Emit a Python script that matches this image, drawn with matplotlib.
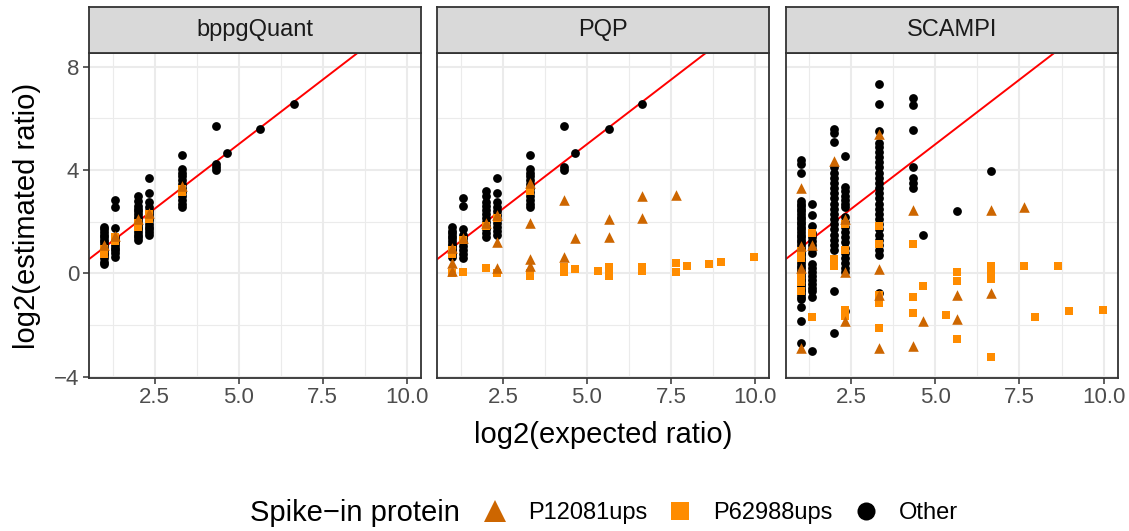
import matplotlib
matplotlib.use("Agg")
import matplotlib.pyplot as plt
from matplotlib.lines import Line2D
import numpy as np

plt.rcParams['font.family'] = ['Liberation Sans', 'DejaVu Sans']

# ---- data: log2(expected ratio) -> log2(estimated ratio) ----
methods = ["bppgQuant", "PQP", "SCAMPI"]

# bppgQuant
bppg_other_x = [1.0]*15 + [1.32]*11 + [2.0]*16 + [2.32]*13 + [3.32]*12 + [4.32]*4 + [4.64, 5.64, 6.64]
bppg_other_y = [0.35, 0.45, 0.6, 0.7, 0.8, 0.9, 1.0, 1.1, 1.2, 1.3, 1.4, 1.5, 1.6, 1.7, 1.8,
                2.85, 2.55, 1.75, 1.4, 1.3, 1.2, 1.1, 1.0, 0.9, 0.8, 0.65,
                3.0, 2.8, 2.6, 2.5, 2.4, 2.3, 2.2, 2.1, 2.0, 1.9, 1.8, 1.7, 1.6, 1.5, 1.4, 1.3,
                3.7, 3.1, 2.75, 2.55, 2.4, 2.3, 2.2, 2.05, 1.9, 1.8, 1.7, 1.6, 1.5,
                4.6, 4.05, 3.9, 3.75, 3.6, 3.45, 3.3, 3.15, 3.0, 2.85, 2.7, 2.55,
                5.7, 4.25, 4.1, 4.0,
                4.65, 5.6, 6.55]
bppg_p12_x = [1.0, 1.32, 2.0, 2.32, 3.32]
bppg_p12_y = [1.1, 1.45, 2.1, 2.35, 3.4]
bppg_p62_x = [1.0, 1.0, 1.32, 1.32, 2.0, 2.0, 2.32, 2.32, 3.32, 3.32]
bppg_p62_y = [0.95, 0.75, 1.4, 1.25, 1.95, 1.8, 2.3, 2.1, 3.25, 3.15]

# PQP
pqp_other_x = [1.0]*12 + [1.32]*10 + [2.0]*12 + [2.32]*11 + [3.32]*12 + [4.32]*3 + [4.64, 5.64, 6.64]
pqp_other_y = [0.65, 0.75, 0.85, 0.95, 1.05, 1.15, 1.25, 1.35, 1.45, 1.55, 1.65, 1.8,
               2.9, 2.6, 1.7, 1.5, 1.35, 1.2, 1.05, 0.9, 0.75, 0.6,
               3.2, 3.0, 2.75, 2.6, 2.45, 2.3, 2.15, 2.0, 1.85, 1.7, 1.55, 1.4,
               3.7, 3.1, 2.75, 2.55, 2.4, 2.25, 2.1, 1.95, 1.8, 1.65, 1.5,
               4.6, 4.05, 3.9, 3.75, 3.6, 3.45, 3.3, 3.15, 3.0, 2.85, 2.7, 2.55,
               5.7, 4.1, 4.0,
               4.65, 5.6, 6.55]
pqp_p12_x = [1.0, 1.0, 1.0, 1.32, 2.0, 2.32, 2.32, 2.32, 3.32, 3.32, 3.32, 3.32,
             4.32, 4.32, 4.64, 5.64, 5.64, 6.64, 6.64, 7.64]
pqp_p12_y = [1.0, 0.4, 0.1, 1.35, 1.95, 2.25, 1.2, 0.2, 3.5, 1.95, 0.55, 0.3,
             2.85, 0.65, 1.35, 2.1, 1.4, 3.0, 2.15, 3.05]
pqp_p62_x = [1.0, 1.0, 1.0, 1.32, 1.32, 2.0, 2.0, 2.32, 2.32, 3.32, 3.32, 3.32,
             4.32, 4.32, 4.64, 5.32, 5.64, 5.64, 5.64, 6.64, 6.64, 7.64, 7.64,
             7.97, 8.64, 8.97, 9.97]
pqp_p62_y = [0.9, 0.75, 0.0, 1.3, 0.05, 1.85, 0.2, 2.15, 0.0, 3.2, 0.0, -0.1,
             0.25, 0.05, 0.15, 0.1, 0.25, 0.0, -0.1, 0.25, 0.1, 0.4, 0.05,
             0.3, 0.35, 0.45, 0.65]

# SCAMPI
sc_other_x = [1.0]*45 + [1.32]*19 + [2.0]*22 + [2.32]*20 + [3.32]*27 + [4.32]*7 + [4.64, 5.64, 6.64]
sc_other_y = [4.4, 4.25, 3.9, 2.8, 2.7, 2.6, 2.5, 2.4, 2.3, 2.2, 2.1, 2.0, 1.9, 1.8, 1.7,
              1.6, 1.5, 1.4, 1.3, 1.2, 1.1, 1.0, 0.9, 0.8, 0.7, 0.6, 0.5, 0.4, 0.3, 0.2,
              0.1, 0.0, -0.1, -0.2, -0.3, -0.4, -0.5, -0.6, -0.7, -0.8, -0.9, -1.0, -1.3, -1.85, -2.7,
              2.7, 2.25, 1.85, 1.55, 1.4, 1.25, 1.1, 0.95, 0.8, 0.35, 0.2, 0.05, -0.1, -0.25,
              -0.4, -0.55, -0.7, -0.9, -3.0,
              5.6, 5.45, 5.1, 4.1, 3.9, 3.7, 3.5, 3.3, 3.1, 2.9, 2.7, 2.5, 2.3, 2.1, 1.9,
              1.7, 1.5, 1.3, 1.1, 0.9, -0.7, -2.3,
              4.55, 3.35, 3.2, 3.0, 2.85, 2.7, 2.55, 2.2, 2.0, 1.8, 1.6, 1.4, 1.2, 1.0,
              0.8, 0.6, 0.4, 0.2, 0.05, -1.45,
              7.35, 6.55, 5.5, 5.05, 4.9, 4.7, 4.5, 4.3, 4.1, 3.9, 3.7, 3.5, 3.3, 3.1,
              2.9, 2.7, 2.5, 2.3, 2.1, 1.9, 1.7, 1.5, 1.3, 1.1, 0.9, 0.7, -0.75,
              6.8, 6.5, 5.55, 4.1, 3.7, 3.5, 3.3,
              1.5, 2.4, 3.95]
sc_p12_x = [1.0, 1.0, 1.0, 1.0, 1.32, 2.0, 2.32, 2.32, 2.32, 3.32, 3.32, 3.32, 3.32,
            4.32, 4.32, 4.64, 5.64, 5.64, 6.64, 6.64, 7.64]
sc_p12_y = [3.3, 1.05, 0.2, -2.9, 1.1, 4.35, 2.1, 0.05, -1.85, 5.4, 0.15, -0.85, -2.9,
            2.45, -2.8, -1.85, -0.85, -1.75, 2.45, -0.75, 2.55]
sc_p62_x = [1.0, 1.0, 1.0, 1.0, 1.0, 1.32, 1.32, 2.0, 2.0, 2.32, 2.32, 2.32, 2.32,
            3.32, 3.32, 3.32, 3.32, 3.32, 4.32, 4.32, 4.32, 4.64, 5.32, 5.64, 5.64, 5.64,
            6.64, 6.64, 6.64, 6.64, 7.64, 7.97, 8.64, 8.97, 9.97]
sc_p62_y = [0.85, 0.6, -0.1, -0.35, -0.7, 1.55, -1.7, 0.55, 0.3, 1.9, 0.9, -1.4, -1.65,
            1.85, 1.15, -0.85, -1.15, -2.1, 1.15, -0.9, -1.55, -0.5, -1.6, 0.05, -0.3, -2.55,
            0.3, 0.05, -0.2, -3.25, 0.3, -1.7, 0.3, -1.45, -1.4]

panels = [
    (bppg_other_x, bppg_other_y, bppg_p12_x, bppg_p12_y, bppg_p62_x, bppg_p62_y),
    (pqp_other_x, pqp_other_y, pqp_p12_x, pqp_p12_y, pqp_p62_x, pqp_p62_y),
    (sc_other_x, sc_other_y, sc_p12_x, sc_p12_y, sc_p62_x, sc_p62_y),
]

legend_labels = ["P12081ups", "P62988ups", "Other"]
col_p12 = "#CD6600"
col_p62 = "#FF8C00"
col_other = "#000000"

# ---- figure ----
W, H = 1129, 531
fig = plt.figure(figsize=(W / 100, H / 100), dpi=100)

lefts = [89, 437.3, 785.7]
pw = 332
top_px, bot_px, strip_top = 53.3, 377.7, 6.7

for i, (ox, oy, tx, ty, sx, sy) in enumerate(panels):
    ax = fig.add_axes([lefts[i] / W, 1 - bot_px / H, pw / W, (bot_px - top_px) / H])
    ax.set_xlim(0.55, 10.42)
    ax.set_ylim(-4.04, 8.52)
    ax.set_xticks([2.5, 5.0, 7.5, 10.0])
    ax.set_xticks([1.25, 3.75, 6.25, 8.75], minor=True)
    ax.set_yticks([-4, 0, 4, 8])
    ax.set_yticks([-2, 2, 6], minor=True)
    ax.grid(True, which='major', color='#EBEBEB', lw=1.5)
    ax.grid(True, which='minor', color='#EBEBEB', lw=0.8)
    ax.set_axisbelow(True)
    for sp in ax.spines.values():
        sp.set_color('#333333')
        sp.set_linewidth(1.3)
    ax.tick_params(which='major', direction='out', length=4, width=1.1, color='#333333',
                   labelsize=16, labelcolor='#4D4D4D', pad=3)
    ax.tick_params(which='minor', length=0)
    if i > 0:
        ax.tick_params(axis='y', labelleft=False, length=0)

    ax.axline((0, 0), slope=1, color='red', lw=1.4, zorder=2)
    ax.scatter(ox, oy, s=40, marker='o', color=col_other, linewidths=0, zorder=3)
    ax.scatter(sx, sy, s=40, marker='s', color=col_p62, linewidths=0, zorder=4)
    ax.scatter(tx, ty, s=58, marker='^', color=col_p12, linewidths=0, zorder=5)

    # facet strip
    st = fig.add_axes([lefts[i] / W, 1 - top_px / H, pw / W, (top_px - strip_top) / H])
    st.set_facecolor('#D9D9D9')
    st.set_xticks([])
    st.set_yticks([])
    for sp in st.spines.values():
        sp.set_color('#333333')
        sp.set_linewidth(1.3)
    st.text(0.5, 0.5, methods[i], ha='center', va='center', fontsize=17,
            color='#1A1A1A', transform=st.transAxes)

fig.text(603.5 / W, 1 - 435 / H, "log2(expected ratio)", ha='center', va='center', fontsize=21)
fig.text(27 / W, 1 - 215.5 / H, "log2(estimated ratio)", ha='center', va='center',
         rotation=90, fontsize=21)

# legend
fig.text(460 / W, 1 - 513 / H, "Spike\u2212in protein", ha='right', va='center', fontsize=21)
handles = [
    Line2D([], [], ls='none', marker='^', markersize=16, color=col_p12, markeredgewidth=0),
    Line2D([], [], ls='none', marker='s', markersize=13, color=col_p62, markeredgewidth=0),
    Line2D([], [], ls='none', marker='o', markersize=13, color=col_other, markeredgewidth=0),
]
fig.legend(handles, legend_labels, loc='center left', bbox_to_anchor=(483 / W, 1 - 513 / H),
           ncol=3, frameon=False, fontsize=17, handlelength=1.0, handletextpad=0.9,
           columnspacing=0.9, borderpad=0, borderaxespad=0)

fig.savefig("out.png", dpi=100)
